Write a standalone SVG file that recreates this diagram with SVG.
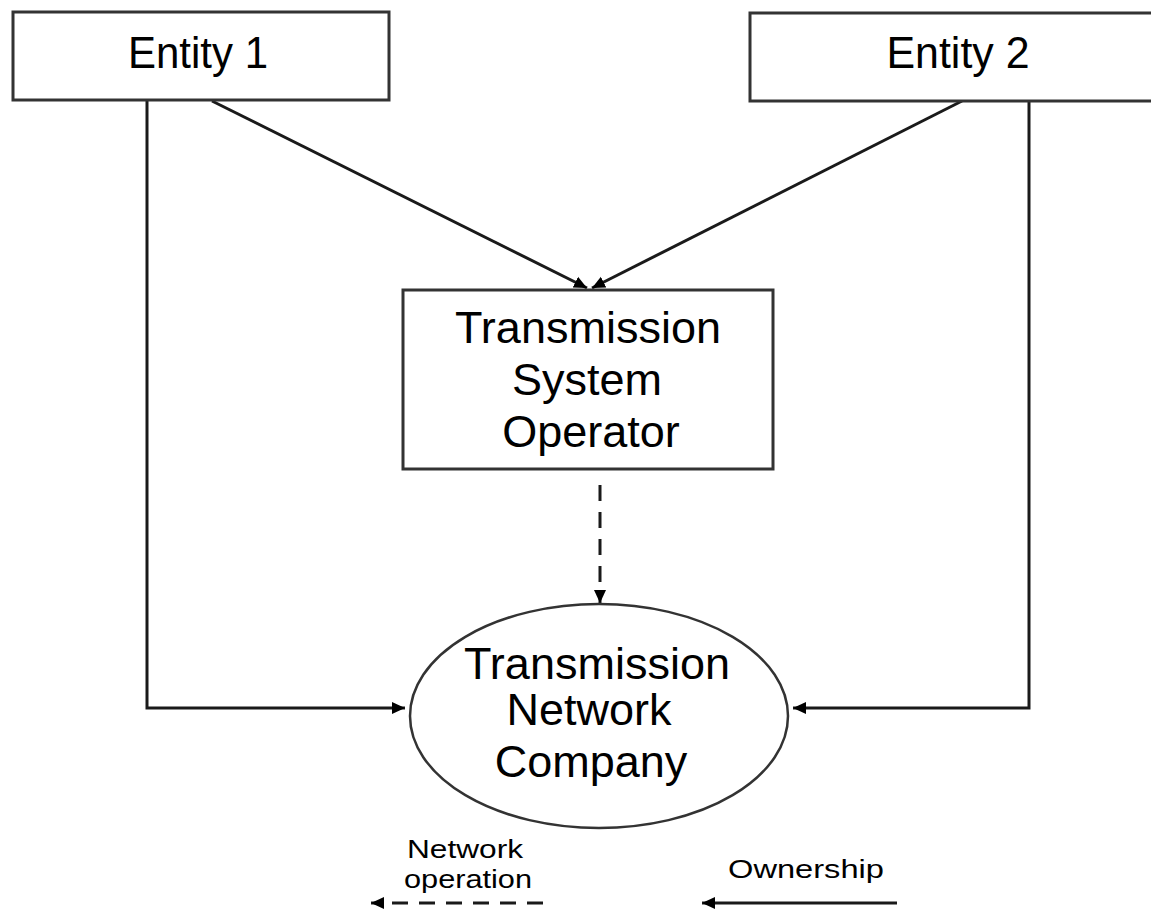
<svg xmlns="http://www.w3.org/2000/svg" width="1151" height="914" viewBox="0 0 1151 914">
  <style>
    .box { fill: #ffffff; stroke: #333333; stroke-width: 3; }
    .ell { fill: #ffffff; stroke: #333333; stroke-width: 2.5; }
    .conn { fill: none; stroke: #1a1a1a; stroke-width: 3; }
    .dash { stroke-dasharray: 16 11; }
    .lbl { font-family: "Liberation Sans", Arial, sans-serif; fill: #000000; text-anchor: middle; }
    .big { font-size: 45px; }
    .small { font-size: 26px; }
  </style>
  <defs>
    <marker id="arrow" markerUnits="userSpaceOnUse" markerWidth="14" markerHeight="14" viewBox="0 0 14 14" refX="13" refY="7" orient="auto">
      <path d="M0,1 L13,7 L0,13 z" fill="#000000"/>
    </marker>
  </defs>
  <rect width="1151" height="914" fill="#ffffff"/>

  <g id="connectors">
    <polyline class="conn" points="147,101 147,708 405,708" marker-end="url(#arrow)"/>
    <polyline class="conn" points="1029,101 1029,708 793,708" marker-end="url(#arrow)"/>
    <line class="conn" x1="212" y1="101" x2="587" y2="288" marker-end="url(#arrow)"/>
    <line class="conn" x1="962" y1="101" x2="592" y2="288" marker-end="url(#arrow)"/>
    <line class="conn dash" x1="600" y1="485" x2="600" y2="603" marker-end="url(#arrow)"/>
  </g>

  <g id="entity1">
    <rect class="box" x="13" y="12" width="376" height="88"/>
    <text class="lbl big" x="198" y="68" textLength="140" lengthAdjust="spacingAndGlyphs">Entity 1</text>
  </g>

  <g id="entity2">
    <rect class="box" x="750" y="13" width="420" height="88"/>
    <text class="lbl big" x="958" y="68" textLength="143" lengthAdjust="spacingAndGlyphs">Entity 2</text>
  </g>

  <g id="tso">
    <rect class="box" x="403" y="290" width="370" height="179"/>
    <text class="lbl big" x="588" y="343">Transmission</text>
    <text class="lbl big" x="587" y="395">System</text>
    <text class="lbl big" x="591" y="447">Operator</text>
  </g>

  <g id="tnc">
    <ellipse class="ell" cx="599" cy="716" rx="189" ry="112"/>
    <text class="lbl big" x="597" y="679">Transmission</text>
    <text class="lbl big" x="589" y="725">Network</text>
    <text class="lbl big" x="591" y="777">Company</text>
  </g>

  <g id="legend">
    <text class="lbl small" x="465" y="858" textLength="116" lengthAdjust="spacingAndGlyphs">Network</text>
    <text class="lbl small" x="468" y="888" textLength="128" lengthAdjust="spacingAndGlyphs">operation</text>
    <line class="conn dash" x1="543" y1="903" x2="371" y2="903" marker-end="url(#arrow)"/>
    <text class="lbl small" x="806" y="878" textLength="156" lengthAdjust="spacingAndGlyphs">Ownership</text>
    <line class="conn" x1="897" y1="903" x2="702" y2="903" marker-end="url(#arrow)"/>
  </g>
</svg>
